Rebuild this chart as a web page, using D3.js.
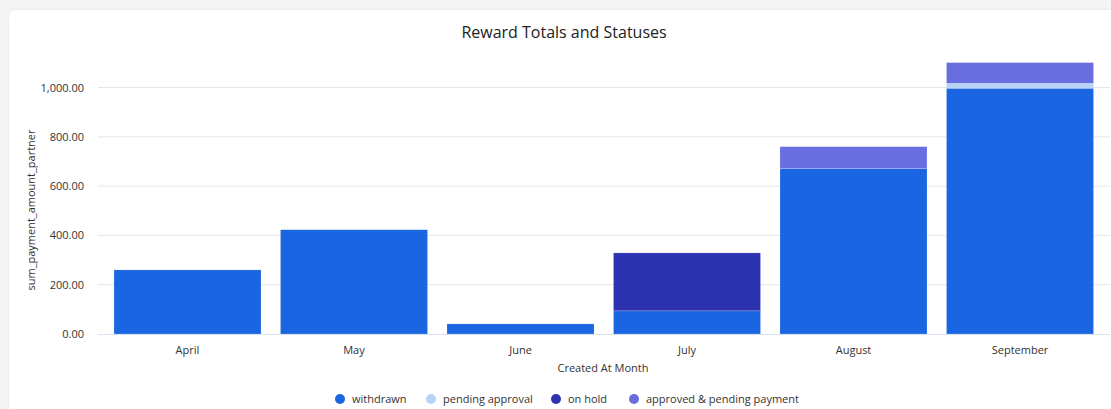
<!DOCTYPE html>
<html>
<head>
<meta charset="utf-8">
<script src="https://cdn.jsdelivr.net/npm/d3@7"></script>
<style>
  body { margin: 0; background: #f4f4f4; font-family: "Open Sans", sans-serif; overflow: hidden; }
  #card { position: absolute; left: 9px; top: 10px; width: 1110px; height: 405px; background: #fff;
          border-radius: 6px; box-shadow: 0 0 3px rgba(0,0,0,0.08); }
  #VizBox { position: absolute; left: 0; top: 0; }
</style>
</head>
<body>
<div id="card"></div>
<div id="VizBox"></div>
<script>
// months along the x axis
var months = ["April", "May", "June", "July", "August", "September"];

// stacked series, bottom to top
var statuses = ["withdrawn", "pending approval", "on hold", "approved & pending payment"];
var withdrawn = [260, 423, 41, 94, 671, 997];
var pendingApproval = [0, 0, 0, 0, 0, 20];
var onHold = [0, 0, 0, 235, 0, 0];
var approvedPending = [0, 0, 0, 0, 89, 84];

var yTicks = [0, 200, 400, 600, 800, 1000];
var colors = ["#1a65e1", "#b6d3f8", "#2d32b1", "#686ddf"];

var table = months.map(function(m, i) {
  return {
    month: m,
    "withdrawn": withdrawn[i],
    "pending approval": pendingApproval[i],
    "on hold": onHold[i],
    "approved & pending payment": approvedPending[i]
  };
});

var W = 1111, H = 409;
var margin = {top: 63, right: 1, bottom: 75, left: 98};
var width = W - margin.left - margin.right;
var height = H - margin.top - margin.bottom;

var root = d3.select("#VizBox").append("svg")
  .attr("width", W).attr("height", H);

// title
root.append("text")
  .attr("x", 564).attr("y", 38)
  .attr("text-anchor", "middle")
  .style("font-size", "16px").style("fill", "#222")
  .text("Reward Totals and Statuses");

var svg = root.append("g")
  .attr("transform", "translate(" + margin.left + "," + margin.top + ")");

var x = d3.scaleBand().domain(months).range([0, 1011.5]).paddingInner(0.117).paddingOuter(0.096);
var y = d3.scaleLinear().range([height, 0]);
y.domain([0, 1000 * height / (334 - 87.5)]);

// gridlines
svg.append("g")
  .selectAll("line").data(yTicks.slice(1)).enter().append("line")
  .attr("x1", 0).attr("x2", width)
  .attr("y1", function(d) { return y(d); }).attr("y2", function(d) { return y(d); })
  .attr("stroke", "#e6e6e6");

// y axis labels
var yAxis = svg.append("g")
  .call(d3.axisLeft(y).tickValues(yTicks).tickSize(0).tickPadding(14)
    .tickFormat(d3.format(",.2f")));
yAxis.select(".domain").remove();
yAxis.selectAll("text").style("font-family", "Open Sans").style("font-size", "11px").style("fill", "#333");

var stack = d3.stack().keys(statuses);
var series = stack(table);

svg.selectAll("g.layer").data(series).enter().append("g")
  .attr("class", "layer")
  .attr("fill", function(d, i) { return colors[i]; })
  .selectAll("rect").data(function(d) { return d.filter(function(p) { return p[1] - p[0] > 0; }); })
  .enter().append("rect")
  .attr("x", function(d) { return x(d.data.month); })
  .attr("y", function(d) { return y(d[1]); })
  .attr("width", x.bandwidth())
  .attr("height", function(d) { return y(d[0]) - y(d[1]); })
  .attr("stroke", "rgba(255,255,255,0.3)")
  .attr("stroke-width", 0.6);

// x axis
var xAxis = svg.append("g")
  .attr("transform", "translate(0," + height + ")")
  .call(d3.axisBottom(x).tickSize(0).tickPadding(12));
xAxis.select(".domain").attr("stroke", "#d9e0ef").attr("d", "M0,0.5H" + width);
xAxis.selectAll("text").style("font-family", "Open Sans").style("font-size", "11px").style("fill", "#333");

// axis titles
root.append("text")
  .attr("x", 603).attr("y", 372)
  .attr("text-anchor", "middle")
  .style("font-size", "11px").style("fill", "#333")
  .text("Created At Month");

root.append("text")
  .attr("transform", "translate(35,210) rotate(-90)")
  .attr("text-anchor", "middle")
  .style("font-size", "11px").style("fill", "#333")
  .text("sum_payment_amount_partner");

// legend
var legendX = [340, 431, 556, 634];
var legend = root.append("g").selectAll("g").data(statuses).enter().append("g")
  .attr("transform", function(d, i) { return "translate(" + legendX[i] + ",399)"; });
legend.append("circle").attr("r", 5).attr("fill", function(d, i) { return colors[i]; });
legend.append("text").attr("x", 12).attr("dy", "0.35em")
  .style("font-size", "11px").style("fill", "#333")
  .text(function(d) { return d; });
</script>
</body>
</html>
